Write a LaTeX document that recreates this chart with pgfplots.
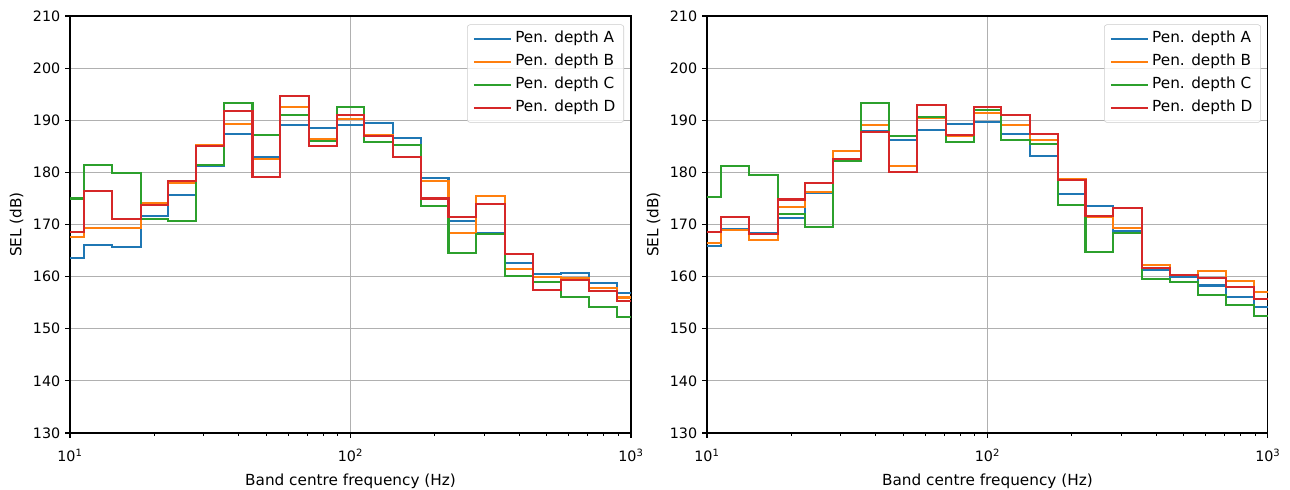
\documentclass[border=0pt]{standalone}
\usepackage{fontspec}
\setmainfont{DejaVu Sans}
\usepackage{pgfplots}
\usepackage{pgfplotstable}
\pgfplotsset{compat=1.18}
\definecolor{c0}{HTML}{1F77B4}
\definecolor{c1}{HTML}{FF7F0E}
\definecolor{c2}{HTML}{2CA02C}
\definecolor{c3}{HTML}{D62728}

\pgfplotstableread{
f     A     B     C     D
10    163.5 167.6 175.0 168.5
12.5  166.1 169.4 181.5 176.5
16    165.7 169.4 179.8 171.1
20    171.7 174.2 171.1 173.7
25    175.6 178.0 170.7 178.4
31.5  181.3 185.2 181.4 185.0
40    187.3 189.3 193.4 191.7
50    183.0 182.5 187.1 179.1
63    189.1 192.5 191.0 194.7
80    188.6 186.4 186.0 185.0
100   189.1 190.2 192.5 191.1
125   189.5 187.1 185.9 186.9
160   186.6 185.3 185.2 183.0
200   179.0 178.3 173.5 175.0
250   170.7 168.4 164.6 171.5
315   168.3 175.5 168.1 173.9
400   162.7 161.4 160.1 164.3
500   160.5 160.0 159.0 157.4
630   160.7 159.7 156.1 159.3
800   158.7 157.8 154.1 157.2
1000  156.8 156.0 152.2 155.4
}\tabL

\pgfplotstableread{
f     A     B     C     D
10    165.8 166.5 175.2 168.5
12.5  169.2 168.9 181.2 171.5
16    168.4 167.0 179.5 168.1
20    171.3 173.4 172.1 174.8
25    176.0 176.3 169.6 178.0
31.5  182.4 184.1 182.25 182.5
40    187.9 189.15 193.4 187.8
50    186.3 181.2 186.9 180.0
63    188.2 190.5 190.6 192.9
80    189.35 186.9 185.9 187.1
100   189.7 191.4 192.0 192.5
125   187.3 189.1 186.2 191.0
160   183.1 186.2 185.4 187.3
200   175.8 178.7 173.7 178.5
250   173.5 171.4 164.7 171.7
315   168.8 169.4 168.3 173.2
400   161.2 162.2 159.6 161.6
500   160.0 160.3 159.0 160.4
630   158.3 161.1 156.5 159.8
800   156.1 159.1 154.6 158.0
1000  154.2 157.0 152.5 155.7
}\tabR

\pgfplotsset{
  legend image code/.code={\draw[#1] (0pt,0pt) -- (27pt,0pt);},
  every axis plot/.append style={line width=1.5pt},
  tick label style={font=\fontsize{10.3}{12}\selectfont},
  label style={font=\fontsize{11}{13}\selectfont},
  xticklabel style={yshift=-4.5pt},
  xlabel style={yshift=-2pt},
  major grid style={line width=0.8pt, color=black!31},
  major tick style={line width=0.8pt, black},
  minor tick style={line width=0.6pt, black},
  axis line style={line width=0.8pt},
  legend cell align=left,
  legend style={at={(1,1)}, anchor=north east, xshift=-5pt, yshift=-6pt,
      draw=black!20, rounded corners=2pt, fill=white, fill opacity=0.8, text opacity=1,
      font=\fontsize{11}{13}\selectfont, row sep=2pt, inner xsep=4pt, inner ysep=3pt,
      nodes={text height=8pt, text depth=2.6pt, inner sep=2pt},
      /tikz/every even column/.append style={column sep=5pt}},
}

\begin{document}
\begin{tikzpicture}
\useasboundingbox (-50.4pt,-41.04pt) rectangle (878.4pt,311.76pt);
\begin{axis}[at={(0pt,0pt)},
    xmode=log, log basis x=10,
    scale only axis, width=403.9pt, height=300.2pt,
    xmin=10, xmax=1000, ymin=130, ymax=210,
    ytick={130,140,...,210},
    xtick={10,100,1000},
    xticklabels={10\textsuperscript{1},10\textsuperscript{2},10\textsuperscript{3}},
    minor xtick={20,30,40,50,60,70,80,90,200,300,400,500,600,700,800,900},
    grid=major,
    tick align=outside, tick pos=left,
    major tick length=3.5pt, minor tick length=2pt,
    yticklabel style={/pgf/number format/assume math mode=true},
    xlabel={Band centre frequency (Hz)},
    ylabel={SEL (dB)}]
\addplot[c0, const plot mark mid, no markers] table[x=f,y=A] {\tabL};
\addplot[c1, const plot mark mid, no markers] table[x=f,y=B] {\tabL};
\addplot[c2, const plot mark mid, no markers] table[x=f,y=C] {\tabL};
\addplot[c3, const plot mark mid, no markers] table[x=f,y=D] {\tabL};
\legend{Pen. depth A, Pen. depth B, Pen. depth C, Pen. depth D}
\end{axis}
\begin{axis}[at={(458.6pt,0pt)},
    xmode=log, log basis x=10,
    scale only axis, width=403.9pt, height=300.2pt,
    xmin=10, xmax=1000, ymin=130, ymax=210,
    ytick={130,140,...,210},
    xtick={10,100,1000},
    xticklabels={10\textsuperscript{1},10\textsuperscript{2},10\textsuperscript{3}},
    minor xtick={20,30,40,50,60,70,80,90,200,300,400,500,600,700,800,900},
    grid=major,
    tick align=outside, tick pos=left,
    major tick length=3.5pt, minor tick length=2pt,
    yticklabel style={/pgf/number format/assume math mode=true},
    xlabel={Band centre frequency (Hz)},
    ylabel={SEL (dB)}]
\addplot[c0, const plot mark mid, no markers] table[x=f,y=A] {\tabR};
\addplot[c1, const plot mark mid, no markers] table[x=f,y=B] {\tabR};
\addplot[c2, const plot mark mid, no markers] table[x=f,y=C] {\tabR};
\addplot[c3, const plot mark mid, no markers] table[x=f,y=D] {\tabR};
\legend{Pen. depth A, Pen. depth B, Pen. depth C, Pen. depth D}
\end{axis}
\end{tikzpicture}
\end{document}
